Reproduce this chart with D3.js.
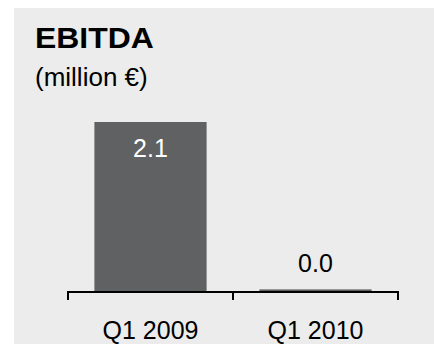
<!DOCTYPE html>
<html>
<head>
<meta charset="utf-8">
<script src="https://cdnjs.cloudflare.com/ajax/libs/d3/7.8.5/d3.min.js"></script>
<style>
  body { margin: 0; background: #fff; }
  svg text { font-family: "Liberation Sans", Arial, sans-serif; }
</style>
</head>
<body>
<div class="chart"></div>
<script>
var categories = ['Q1 2009', 'Q1 2010'];
var values = [2.1, 0.02];
var title = 'EBITDA';
var subtitle = '(million \u20AC)';

var w = 434;
var h = 344;

var svg = d3.select('.chart').append('svg')
	.attr('width', w)
	.attr('height', h);

// panel background
svg.append('rect')
	.attr('x', 14)
	.attr('y', 8)
	.attr('width', w - 14)
	.attr('height', h - 8)
	.attr('fill', '#ebeceb');

svg.append('text')
	.attr('transform', 'translate(35,48) scale(1.1,1)')
	.attr('font-size', 29)
	.attr('font-weight', 'bold')
	.attr('fill', '#000')
	.text(title);

svg.append('text')
	.attr('x', 35)
	.attr('y', 86)
	.attr('font-size', 26)
	.attr('fill', '#000')
	.text(subtitle);

var x = d3.scaleBand()
	.domain(categories)
	.range([68, 398])
	.paddingInner(0.32)
	.paddingOuter(0.16);

var y = d3.scaleLinear()
	.domain([0, 2.1])
	.range([291, 122]);

svg.selectAll('.bar')
	.data(values)
	.enter()
	.append('rect')
	.attr('class', 'bar')
	.attr('x', function(d, i){ return x(categories[i]); })
	.attr('y', function(d){ return y(d); })
	.attr('width', x.bandwidth())
	.attr('height', function(d){ return y(0) - y(d); })
	.attr('fill', '#5f6163');

/*--------------------------- AXIS --------------------------*/

var axis = svg.append('g')
	.attr('stroke', '#000')
	.attr('stroke-width', 2);

axis.append('line')
	.attr('x1', x.range()[0])
	.attr('x2', x.range()[1])
	.attr('y1', y(0) + 1)
	.attr('y2', y(0) + 1);

var edges = [x.range()[0], x.range()[0] + x.step(), x.range()[1]];
axis.selectAll('.tick')
	.data(edges)
	.enter()
	.append('line')
	.attr('x1', function(d){ return d; })
	.attr('x2', function(d){ return d; })
	.attr('y1', y(0))
	.attr('y2', y(0) + 9);

svg.selectAll('.cat')
	.data(categories)
	.enter()
	.append('text')
	.attr('x', function(d){ return x(d) + x.bandwidth() / 2; })
	.attr('y', 339)
	.attr('text-anchor', 'middle')
	.attr('font-size', 25)
	.attr('fill', '#000')
	.text(function(d){ return d; });

/*--------------------------- VALUE LABELS --------------------------*/

svg.selectAll('.val')
	.data(values)
	.enter()
	.append('text')
	.attr('x', function(d, i){ return x(categories[i]) + x.bandwidth() / 2; })
	.attr('y', function(d){
		return (y(0) - y(d) > 50) ? y(d) + 35 : y(d) - 17;
	})
	.attr('text-anchor', 'middle')
	.attr('font-size', 25)
	.attr('fill', function(d){ return (y(0) - y(d) > 50) ? '#fff' : '#000'; })
	.text(function(d){ return d3.format('.1f')(d); });
</script>
</body>
</html>
